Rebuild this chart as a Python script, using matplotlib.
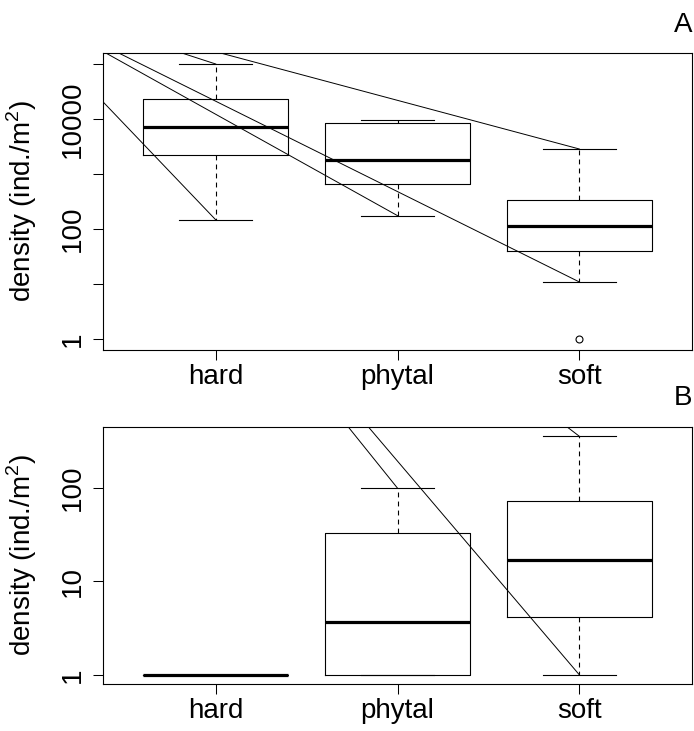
import numpy as np
import matplotlib
matplotlib.use('Agg')
import matplotlib.pyplot as plt

plt.rcParams['font.family'] = ['Liberation Sans', 'DejaVu Sans']
plt.rcParams['lines.scale_dashes'] = False
plt.rcParams['mathtext.fontset'] = 'custom'
plt.rcParams['mathtext.rm'] = 'Liberation Sans'

#%% data (ind./m2)
habitats = ['hard', 'phytal', 'soft']

# panel A
a_lo = [147, 175, 10.9]
a_q1 = [2180, 667, 40.3]
a_med = [7250, 1800, 113.5]
a_q3 = [23400, 8450, 337]
a_hi = [100000, 9700, 2850]
a_out = [[], [], [1]]
a_ticks = [1, 10, 100, 1000, 10000, 100000]
a_ticklabels = ['1', '', '100', '', '10000', '']
# whisker ends hit by the stray lines: (box index, 'lo'/'hi')
a_hits = [(0, 'lo'), (0, 'hi'), (1, 'lo'), (2, 'lo'), (2, 'hi')]

# panel B
b_lo = [1, 1, 1]
b_q1 = [1, 1, 4.14]
b_med = [1, 3.66, 16.9]
b_q3 = [1, 33, 72.6]
b_hi = [1, 100, 360]
b_out = [[], [], []]
b_ticks = [1, 10, 100]
b_ticklabels = ['1', '10', '100']
b_hits = [(1, 'hi'), (2, 'lo'), (2, 'hi')]

FS = 20
W, H = 694, 731

fig = plt.figure(figsize=(W/100, H/100), dpi=100)


def panel(rect, lo, q1, med, q3, hi, out, ticks, ticklabels, hits, letter, letter_y):
    ax = fig.add_axes(rect)
    stats = []
    for i in range(3):
        stats.append(dict(whislo=lo[i], q1=q1[i], med=med[i], q3=q3[i],
                          whishi=hi[i], fliers=out[i]))
    ax.bxp(stats, positions=[1, 2, 3], widths=0.8, capwidths=0.4,
           boxprops=dict(color='black', linewidth=0.8),
           whiskerprops=dict(color='black', linewidth=0.8,
                             linestyle=(0, (3.5, 3))),
           capprops=dict(color='black', linewidth=0.8),
           medianprops=dict(color='black', linewidth=2.3),
           flierprops=dict(marker='o', markerfacecolor='none',
                           markeredgecolor='black', markersize=5,
                           markeredgewidth=0.8))
    ax.set_yscale('log')

    # R style limits: data range + 4% on each side
    allv = np.concatenate([lo, hi] + [np.asarray(o, float) for o in out])
    l0, l1 = np.log10(allv.min()), np.log10(allv.max())
    pad = 0.04*(l1 - l0)
    ax.set_ylim(10**(l0 - pad), 10**(l1 + pad))
    ax.set_xlim(0.38, 3.62)

    ax.set_yticks(ticks)
    ax.set_yticklabels(ticklabels)
    ax.yaxis.set_minor_locator(matplotlib.ticker.NullLocator())
    ax.set_xticks([1, 2, 3])
    ax.set_xticklabels(habitats)
    ax.tick_params(axis='both', direction='out', length=7.2, width=0.75,
                   labelsize=FS, colors='black')
    ax.tick_params(axis='x', pad=3)
    ax.tick_params(axis='y', pad=5)
    for t in ax.get_yticklabels():
        t.set_rotation(90)
        t.set_va('center')
    for s in ax.spines.values():
        s.set_linewidth(0.8)

    ax.set_ylabel('density (ind./m$^2$)', fontsize=FS)
    ax.yaxis.set_label_coords(-0.108, 0.5)

    # stray lines from just above the top-left corner of the figure
    inv = ax.transData.inverted()
    x0, y0 = inv.transform((0, H + 6))
    for i, which in hits:
        y = lo[i] if which == 'lo' else hi[i]
        ax.plot([x0, i + 1], [y0, y], color='black', linewidth=0.7,
                scalex=False, scaley=False)

    fig.text(692/W, 1 - letter_y/H, letter, fontsize=FS, ha='right',
             va='baseline')
    return ax


panel([103/W, 1 - 350/H, 589/W, 297/H], a_lo, a_q1, a_med, a_q3, a_hi,
      a_out, a_ticks, a_ticklabels, a_hits, 'A', 31.5)
panel([103/W, 1 - 684.3/H, 589/W, 257.6/H], b_lo, b_q1, b_med, b_q3, b_hi,
      b_out, b_ticks, b_ticklabels, b_hits, 'B', 405)

fig.savefig('out.png', dpi=100)
